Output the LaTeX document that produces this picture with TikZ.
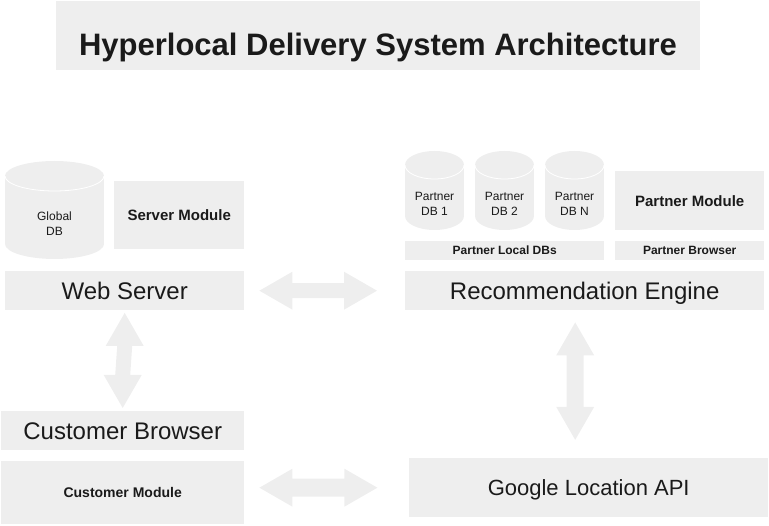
\documentclass[tikz,border=0pt]{standalone}
\usepackage{fontspec}
\setmainfont{Liberation Sans}
\usetikzlibrary{calc}
\definecolor{boxfill}{HTML}{EEEEEE}
\definecolor{txt}{HTML}{1A1A1A}
\tikzset{
  box/.style={fill=boxfill, draw=none, inner sep=0pt, text=txt, anchor=north west, align=center},
  dbtext/.style={inner sep=0pt, text=txt, align=center, font=\fontsize{12}{15}\selectfont},
  big/.style={font=\fontsize{24}{28}\selectfont, text height=17.2pt, text depth=0pt},
  mid/.style={font=\fontsize{22}{26}\selectfont, text height=15.8pt, text depth=0pt},
  modb/.style={font=\fontsize{15}{18}\selectfont\bfseries, text height=10.8pt, text depth=0pt},
  cmodb/.style={font=\fontsize{14}{17}\selectfont\bfseries, text height=10pt, text depth=0pt},
  smallb/.style={font=\fontsize{12}{14}\selectfont\bfseries, text height=8.6pt, text depth=0pt},
}
% horizontal block arrow between two named coordinates: start, end, half shaft
\newcommand\harrowc[3]{%
  \fill[boxfill] (#1) -- ++(33,-19) -- ++(0,19-#3) -- ($(#2)+(-33,-#3)$) -- ++(0,#3-19) -- (#2)
    -- ++(-33,19) -- ++(0,#3-19) -- ($(#1)+(33,#3)$) -- ++(0,19-#3) -- cycle;}
% vertical block arrow: top, bottom, half shaft
\newcommand\varrowc[3]{%
  \fill[boxfill] (#1) -- ++(19,33) -- ++(#3-19,0) -- ($(#2)+(#3,-33)$) -- ++(19-#3,0) -- (#2)
    -- ++(-19,-33) -- ++(19-#3,0) -- ($(#1)+(-#3,33)$) -- ++(#3-19,0) -- cycle;}
% cylinder: cx, rx, top, bottom, ry
\newcommand\dbcyl[5]{%
  \fill[boxfill] (#1-#2,#3+#5) rectangle (#1+#2,#4-#5);
  \fill[boxfill] (#1,#4-#5) ellipse[x radius=#2pt, y radius=#5pt];
  \fill[boxfill] (#1,#3+#5) ellipse[x radius=#2pt, y radius=#5pt];
  \draw[white, line width=0.8pt] (#1-#2,#3+#5) arc[start angle=180, end angle=360, x radius=#2pt, y radius=#5pt];}
\begin{document}
\begin{tikzpicture}[x=1pt, y=-1pt]
\useasboundingbox (0,0) rectangle (769,526);

% title
\node[box, minimum width=644pt, minimum height=69pt] (titlebox) at (56,1) {};
\node[text=txt, inner sep=0pt, font=\fontsize{31}{36}\selectfont\bfseries, text height=22.2pt, text depth=0pt] (title) at (378,44) {Hyperlocal Delivery System Architecture};

% left column
\dbcyl{54.5}{49.5}{161}{259}{15}
\node[dbtext] (gdb) at (54.5,224) {Global\\DB};
\node[box, modb, minimum width=130pt, minimum height=68pt] (sm) at (114,181) {Server Module};
\node[box, big, minimum width=239pt, minimum height=39pt] (ws) at (5,271) {Web Server};
\node[box, big, minimum width=243pt, minimum height=39pt] (cb) at (1,411) {Customer Browser};
\node[box, cmodb, minimum width=243pt, minimum height=63pt] (cm) at (1,461) {Customer Module};

% right column
\dbcyl{434.5}{29.5}{151}{230}{14}
\dbcyl{504.5}{29.5}{151}{230}{14}
\dbcyl{574.5}{29.5}{151}{230}{14}
\node[dbtext] (pdb1) at (434.5,204) {Partner\\DB 1};
\node[dbtext] (pdb2) at (504.5,204) {Partner\\DB 2};
\node[dbtext] (pdbn) at (574.5,204) {Partner\\DB N};
\node[box, modb, minimum width=149pt, minimum height=59pt] (pm) at (615,171) {Partner Module};
\node[box, smallb, minimum width=199pt, minimum height=19pt] (pldb) at (405,241) {Partner Local DBs};
\node[box, smallb, minimum width=149pt, minimum height=19pt] (pb) at (615,241) {Partner Browser};
\node[box, big, minimum width=359pt, minimum height=39pt] (re) at (405,271) {Recommendation Engine};
\node[box, mid, minimum width=359pt, minimum height=59pt] (gl) at (409,458) {Google Location API};

% connectors (block arrows)
\coordinate (a1s) at ($(ws.east)+(15,0)$);
\coordinate (a1e) at ($(re.west)+(-28,0)$);
\harrowc{a1s}{a1e}{7.5}
\coordinate (a2s) at ($(cm.east)+(15,-5)$);
\coordinate (a2e) at ($(a2s)+(118,0)$);
\harrowc{a2s}{a2e}{9}
\coordinate (a3s) at ($(ws.south)+(0,2.5)$);
\coordinate (a3e) at ($(cb.north)+(0,-3)$);
\varrowc{a3s}{a3e}{7.5}
\coordinate (a4s) at ($(re.south)+(-9.5,12)$);
\coordinate (a4e) at ($(a4s)+(0,117.5)$);
\varrowc{a4s}{a4e}{8.5}
\end{tikzpicture}
\end{document}
